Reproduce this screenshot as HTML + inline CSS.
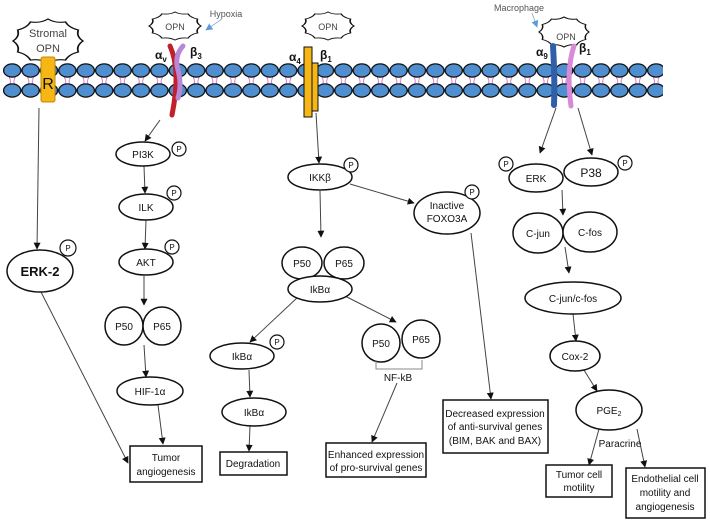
<!DOCTYPE html>
<html><head><meta charset="utf-8"><style>
html,body{margin:0;padding:0;background:#fff;}
svg{display:block;font-family:"Liberation Sans",sans-serif;}
text{fill:#111;}
</style></head><body>
<svg width="710" height="523" viewBox="0 0 710 523" xmlns="http://www.w3.org/2000/svg">
<defs>
<marker id="a" viewBox="0 0 10 10" refX="9" refY="5" markerWidth="7" markerHeight="7" orient="auto" markerUnits="userSpaceOnUse"><path d="M0,0L10,5L0,10z" fill="#111"/></marker>
<marker id="b" viewBox="0 0 10 10" refX="9" refY="5" markerWidth="7" markerHeight="7" orient="auto" markerUnits="userSpaceOnUse"><path d="M0,0L10,5L0,10z" fill="#5b9bd5"/></marker>
<pattern id="mem" x="3" y="62" width="18.4" height="38" patternUnits="userSpaceOnUse">
<path d="M6,15 Q9,19.5 6,24 M12.4,15 Q9.4,19.5 12.4,24" stroke="#d070c8" stroke-width="0.9" fill="none"/>
<ellipse cx="9.2" cy="8.5" rx="8.6" ry="6.6" fill="#4f8fd0" stroke="#111" stroke-width="1.3"/>
<ellipse cx="9.2" cy="28.5" rx="8.6" ry="6.6" fill="#4f8fd0" stroke="#111" stroke-width="1.3"/>
</pattern>
<path id="cl" d="M1,0 Q.8,.21 .866,.5 Q.6,.6 .5,.866 Q.21,.8 0,1 Q-.21,.8 -.5,.866 Q-.6,.6 -.866,.5 Q-.8,.21 -1,0 Q-.8,-.21 -.866,-.5 Q-.6,-.6 -.5,-.866 Q-.21,-.8 0,-1 Q.21,-.8 .5,-.866 Q.6,-.6 .866,-.5 Q.8,-.21 1,0Z"/>
</defs>

<rect x="3" y="62" width="660" height="38" fill="url(#mem)"/>

<g fill="#fff" stroke="#111">
<use href="#cl" transform="translate(48,41) scale(35,22)" style="stroke-width:0.05"/>
<use href="#cl" transform="translate(175,26) scale(26,14)" style="stroke-width:0.06"/>
<use href="#cl" transform="translate(328,26) scale(26,14)" style="stroke-width:0.06"/>
<use href="#cl" transform="translate(564,32) scale(25,15)" style="stroke-width:0.06"/>
</g>
<g font-size="11" text-anchor="middle">
<text x="48" y="37" style="fill:#444">Stromal</text><text x="48" y="52" style="fill:#444">OPN</text>
<text x="175" y="30" font-size="9" style="fill:#444">OPN</text>
<text x="328" y="30" font-size="9" style="fill:#444">OPN</text>
<text x="566" y="40" font-size="9" style="fill:#444">OPN</text>
</g>
<text x="226" y="17" font-size="9" text-anchor="middle" style="fill:#555">Hypoxia</text>
<line x1="222" y1="19" x2="206" y2="30" stroke="#8ab8e0" stroke-width="1" marker-end="url(#b)"/>
<text x="519" y="11" font-size="9" text-anchor="middle" style="fill:#555">Macrophage</text>
<line x1="532" y1="13" x2="537" y2="27" stroke="#8ab8e0" stroke-width="1" marker-end="url(#b)"/>

<rect x="41" y="57" width="14" height="45" rx="2" fill="#f5b616" stroke="#c08800" stroke-width="1"/>
<text x="48" y="89" font-size="16" text-anchor="middle" style="fill:#111">R</text>
<path d="M170,46 Q181,70 172,115" stroke="#c0202a" stroke-width="5" fill="none" stroke-linecap="round"/>
<path d="M183,46 Q174,56 178,70 Q182,85 178,98" stroke="#b887d6" stroke-width="5" fill="none" stroke-linecap="round"/>
<text x="155" y="59" font-size="12" font-weight="bold">α<tspan font-size="8" dy="3">v</tspan></text>
<text x="190" y="56" font-size="12" font-weight="bold">β<tspan font-size="8" dy="3">3</tspan></text>
<rect x="304" y="47" width="8" height="70" fill="#f5b616" stroke="#111" stroke-width="1"/>
<rect x="312" y="63" width="6" height="48" fill="#f5b616" stroke="#111" stroke-width="1"/>
<text x="289" y="61" font-size="12" font-weight="bold">α<tspan font-size="8" dy="3">4</tspan></text>
<text x="320" y="59" font-size="12" font-weight="bold">β<tspan font-size="8" dy="3">1</tspan></text>
<path d="M553,46 Q555,80 554,105" stroke="#2f5fa8" stroke-width="6" fill="none" stroke-linecap="round"/>
<path d="M574,46 Q566,70 571,106" stroke="#d78ad8" stroke-width="5" fill="none" stroke-linecap="round"/>
<text x="536" y="56" font-size="12" font-weight="bold">α<tspan font-size="8" dy="3">9</tspan></text>
<text x="579" y="52" font-size="12" font-weight="bold">β<tspan font-size="8" dy="3">1</tspan></text>

<g stroke="#444" stroke-width="1" fill="none" marker-end="url(#a)">
<line x1="39" y1="108" x2="37" y2="249"/>
<line x1="160" y1="120" x2="145" y2="141"/>
<line x1="144" y1="166" x2="145" y2="193"/>
<line x1="146" y1="220" x2="145" y2="249"/>
<line x1="144" y1="276" x2="144" y2="305"/>
<line x1="144" y1="345" x2="146" y2="377"/>
<line x1="41" y1="292" x2="128" y2="463"/>
<line x1="158" y1="405" x2="163" y2="444"/>
<line x1="316" y1="113" x2="319" y2="163"/>
<line x1="320" y1="191" x2="321" y2="237"/>
<line x1="350" y1="184" x2="414" y2="203"/>
<line x1="471" y1="233" x2="491" y2="399"/>
<line x1="298" y1="297" x2="250" y2="342"/>
<line x1="345" y1="296" x2="396" y2="322"/>
<line x1="249" y1="370" x2="250" y2="397"/>
<line x1="250" y1="426" x2="249" y2="451"/>
<line x1="397" y1="383" x2="372" y2="442"/>
<line x1="556" y1="108" x2="540" y2="153"/>
<line x1="578" y1="108" x2="592" y2="155"/>
<line x1="562" y1="190" x2="563" y2="215"/>
<line x1="565" y1="247" x2="569" y2="273"/>
<line x1="573" y1="314" x2="576" y2="341"/>
<line x1="584" y1="370" x2="597" y2="391"/>
<line x1="599" y1="429" x2="589" y2="465"/>
<line x1="637" y1="429" x2="645" y2="467"/>
</g>

<g fill="#fff" stroke="#111" stroke-width="1.5">
<ellipse cx="40" cy="271" rx="33" ry="21"/>
<ellipse cx="143" cy="154" rx="27" ry="12"/>
<ellipse cx="146" cy="207" rx="27" ry="13"/>
<ellipse cx="146" cy="262" rx="27" ry="13"/>
<circle cx="124" cy="326" r="19"/><circle cx="162" cy="326" r="19"/>
<ellipse cx="150" cy="391" rx="33" ry="14"/>
<ellipse cx="320" cy="177" rx="32" ry="13"/>
<ellipse cx="302" cy="263" rx="20" ry="16"/><ellipse cx="344" cy="263" rx="20" ry="16"/>
<ellipse cx="320" cy="289" rx="32" ry="13"/>
<ellipse cx="447" cy="213" rx="33" ry="21"/>
<ellipse cx="242" cy="356" rx="32" ry="13"/>
<ellipse cx="254" cy="412" rx="32" ry="14"/>
<circle cx="381" cy="343" r="19"/><circle cx="421" cy="339" r="19"/>
<ellipse cx="536" cy="178" rx="27" ry="14"/>
<ellipse cx="591" cy="172" rx="27" ry="14"/>
<ellipse cx="538" cy="233" rx="25" ry="20"/><ellipse cx="590" cy="232" rx="27" ry="20"/>
<ellipse cx="573" cy="298" rx="48" ry="16"/>
<ellipse cx="575" cy="356" rx="25" ry="15"/>
<ellipse cx="609" cy="410" rx="33" ry="20"/>
</g>
<g fill="#fff" stroke="#111" stroke-width="1.2">
<circle cx="68" cy="248" r="8"/><circle cx="179" cy="149" r="7"/><circle cx="174" cy="193" r="7"/>
<circle cx="172" cy="247" r="7"/><circle cx="351" cy="165" r="7"/><circle cx="472" cy="192" r="7"/>
<circle cx="277" cy="342" r="7"/><circle cx="506" cy="164" r="7"/><circle cx="625" cy="163" r="7"/>
</g>
<g font-size="8" text-anchor="middle" style="fill:#444">
<text x="68" y="251">P</text><text x="179" y="152">P</text><text x="174" y="196">P</text>
<text x="172" y="250">P</text><text x="351" y="168">P</text><text x="472" y="195">P</text>
<text x="277" y="345">P</text><text x="506" y="167">P</text><text x="625" y="166">P</text>
</g>
<path d="M376,360 V369 H422 V360" stroke="#888" stroke-width="1" fill="none"/>
<text x="398" y="381" font-size="10" text-anchor="middle">NF-kB</text>

<g font-size="10" text-anchor="middle">
<text x="40" y="276" font-size="13" font-weight="bold">ERK-2</text>
<text x="143" y="158">PI3K</text>
<text x="146" y="211">ILK</text>
<text x="146" y="266">AKT</text>
<text x="124" y="330">P50</text><text x="162" y="330">P65</text>
<text x="150" y="395">HIF-1α</text>
<text x="320" y="181">IKKβ</text>
<text x="302" y="267">P50</text><text x="344" y="267">P65</text>
<text x="320" y="293">IkBα</text>
<text x="447" y="209">Inactive</text><text x="447" y="222">FOXO3A</text>
<text x="242" y="360">IkBα</text>
<text x="254" y="416">IkBα</text>
<text x="381" y="347">P50</text><text x="421" y="343">P65</text>
<text x="536" y="182">ERK</text>
<text x="591" y="177" font-size="12">P38</text>
<text x="538" y="237">C-jun</text><text x="590" y="236">C-fos</text>
<text x="573" y="302">C-jun/c-fos</text>
<text x="575" y="360">Cox-2</text>
<text x="609" y="414">PGE<tspan font-size="7" dy="2">2</tspan></text>
<text x="620" y="447">Paracrine</text>
</g>

<g fill="#fff" stroke="#111" stroke-width="1.5">
<rect x="130" y="446" width="72" height="36"/>
<rect x="220" y="452" width="67" height="23"/>
<rect x="326" y="443" width="100" height="34"/>
<rect x="443" y="400" width="105" height="53"/>
<rect x="546" y="465" width="66" height="32"/>
<rect x="626" y="468" width="79" height="50"/>
</g>
<g font-size="10" text-anchor="middle">
<text x="166" y="461">Tumor</text><text x="166" y="475">angiogenesis</text>
<text x="253" y="467">Degradation</text>
<text x="376" y="458">Enhanced expression</text><text x="376" y="471">of pro-survival genes</text>
<text x="495" y="417">Decreased expression</text><text x="495" y="430">of anti-survival genes</text><text x="495" y="444">(BIM, BAK and BAX)</text>
<text x="579" y="478">Tumor cell</text><text x="579" y="491">motility</text>
<text x="665" y="482">Endothelial cell</text><text x="665" y="496">motility and</text><text x="665" y="510">angiogenesis</text>
</g>
</svg>
</body></html>
